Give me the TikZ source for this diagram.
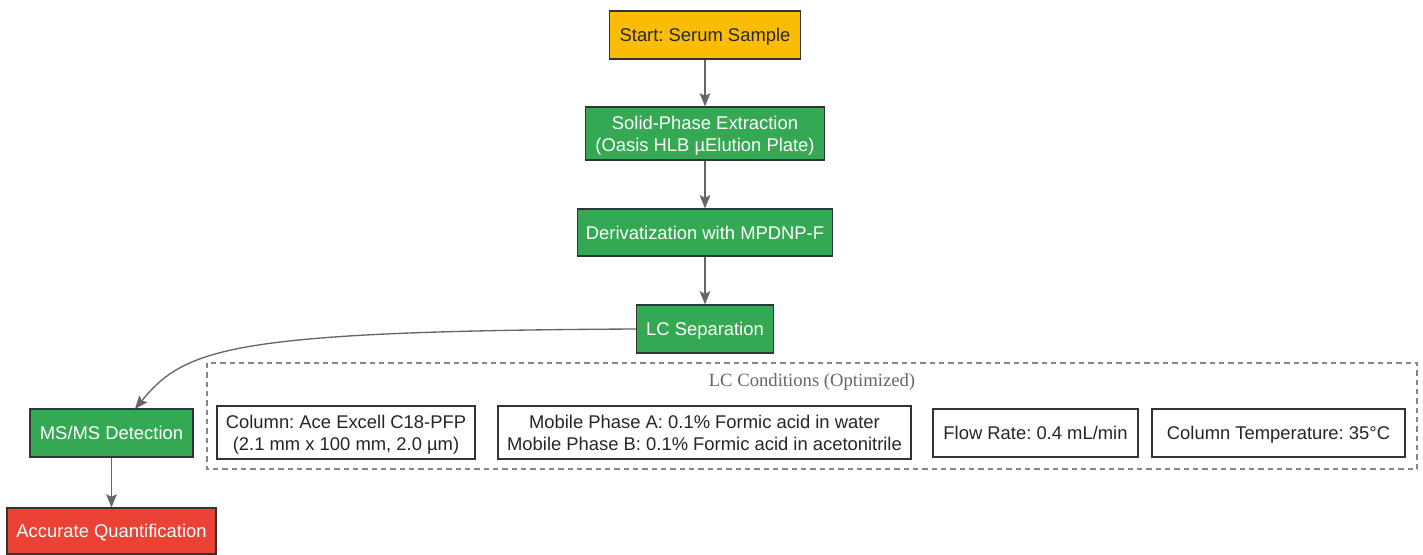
\documentclass[tikz,border=0pt]{standalone}
\usepackage{fontspec}
\setmainfont{Liberation Sans}
\newfontfamily\clusterfont{Liberation Serif}
\usetikzlibrary{calc, arrows.meta, positioning}

\definecolor{stepgreen}{HTML}{34A853}
\definecolor{startyellow}{HTML}{FBBC05}
\definecolor{endred}{HTML}{EA4335}
\definecolor{edgegray}{HTML}{666666}
\definecolor{boxline}{HTML}{333333}

\tikzset{
  flowbox/.style={draw=boxline, line width=0.8pt, align=center, font=\fontsize{13.8}{16.5}\selectfont, inner sep=2pt, text depth=0pt},
  greenbox/.style={flowbox, fill=stepgreen, text=white},
  condbox/.style={flowbox, fill=white, text=black!85},
  flowarrow/.style={draw=edgegray, line width=1pt, -{Stealth[length=10pt,width=8pt,inset=2pt]}},
}

\begin{document}
\frenchspacing
\begin{tikzpicture}[x=0.75pt, y=-0.75pt]
\useasboundingbox (0,0) rectangle (1423,554);

\coordinate (ClA) at (207,363);
\coordinate (ClB) at (1417,469);

\draw[draw=edgegray!80, line width=0.8pt, dash pattern=on 4pt off 3pt] (ClA) rectangle (ClB);
\node[text=edgegray, font=\clusterfont\fontsize{14}{16}\selectfont] (cltitle) at (812,382) {LC Conditions (Optimized)};

\node[flowbox, fill=startyellow, text=black!85, minimum width=143.25pt, minimum height=36pt] (start) at (705,35) {Start: Serum Sample};
\node[greenbox, minimum width=179.25pt, minimum height=39.75pt] (spe) at (705,133.5) {Solid-Phase Extraction\\(Oasis HLB µElution Plate)};
\node[greenbox, minimum width=191.25pt, minimum height=35.25pt] (deriv) at (705,232.5) {Derivatization with MPDNP-F};
\node[greenbox, minimum width=102.75pt, minimum height=36pt] (lcsep) at (705,329) {LC Separation};
\node[greenbox, minimum width=122.25pt, minimum height=36pt] (msms) at (111.5,433) {MS/MS Detection};
\node[flowbox, fill=endred, text=white, minimum width=156.75pt, minimum height=34.5pt] (quant) at (111.5,531) {Accurate Quantification};

\node[condbox, minimum width=193.5pt, minimum height=39.75pt] (column) at (346,432.5) {Column: Ace Excell C18-PFP\\(2.1 mm x 100 mm, 2.0 µm)};
\node[condbox, minimum width=309.75pt, minimum height=39.75pt] (mobile) at (704.5,432.5) {Mobile Phase A: 0.1\% Formic acid in water\\Mobile Phase B: 0.1\% Formic acid in acetonitrile};
\node[condbox, minimum width=153.75pt, minimum height=36pt] (flow) at (1035.5,433) {Flow Rate: 0.4 mL/min};
\node[condbox, minimum width=189.75pt, minimum height=36pt] (temp) at (1278.5,433) {Column Temperature: 35°C};

\coordinate (msin) at (135,409);

\draw[flowarrow] (start) -- (spe);
\draw[flowarrow] (spe) -- (deriv);
\draw[flowarrow] (deriv) -- (lcsep);
\draw[flowarrow] (lcsep.west) .. controls (230,331) and (185,348) .. (msin);
\draw[flowarrow] (msms) -- (quant);
\end{tikzpicture}
\end{document}
